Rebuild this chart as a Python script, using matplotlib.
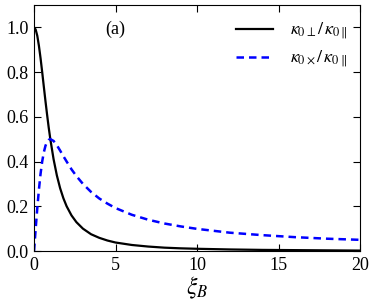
import matplotlib
matplotlib.use('Agg')
import matplotlib.pyplot as plt

# values
xi_b = [0, 0.1, 0.2, 0.3, 0.4, 0.5, 0.6, 0.7, 0.8, 0.9, 1.0, 1.2, 1.4, 1.6, 1.8,
        2.0, 2.3, 2.6, 3.0, 3.5, 4.0, 4.5, 5, 6, 7, 8, 9, 10, 12, 14, 16, 18, 20]
kappa_perp = [1.0, 0.990, 0.962, 0.917, 0.862, 0.800, 0.735, 0.671, 0.610, 0.552,
              0.500, 0.410, 0.338, 0.281, 0.236, 0.200, 0.159, 0.129, 0.100, 0.075,
              0.059, 0.047, 0.038, 0.027, 0.020, 0.015, 0.012, 0.010, 0.007, 0.005,
              0.004, 0.003, 0.002]
kappa_cross = [0.0, 0.099, 0.192, 0.275, 0.345, 0.400, 0.441, 0.470, 0.488, 0.497,
               0.500, 0.492, 0.473, 0.449, 0.424, 0.400, 0.365, 0.335, 0.300, 0.264,
               0.235, 0.212, 0.192, 0.162, 0.140, 0.123, 0.110, 0.099, 0.082, 0.071,
               0.062, 0.055, 0.050]

plt.rcParams['font.family'] = 'Liberation Serif'
plt.rcParams['mathtext.fontset'] = 'stix'

fig = plt.figure(figsize=(3.74, 3.08), dpi=100)
ax = fig.add_axes([0.091, 0.185, 0.8716, 0.799])

ax.plot(xi_b, kappa_perp, color='black', lw=1.6,
        label=r'$\kappa_{0\perp}/\,\kappa_{0\parallel}$')
ax.plot(xi_b, kappa_cross, color='blue', lw=1.8, ls=(0, (3, 2)),
        label=r'$\kappa_{0\times}/\,\kappa_{0\parallel}$')

ax.set_xlim(0, 20)
ax.set_ylim(0, 1.1)
ax.set_xticks([0, 5, 10, 15, 20])
ax.set_yticks([0.0, 0.2, 0.4, 0.6, 0.8, 1.0])
ax.set_yticklabels(['0.0', '0.2', '0.4', '0.6', '0.8', '1.0'])
ax.tick_params(direction='in', top=True, right=True, labelsize=13, length=5,
               width=0.8, pad=4)
ax.set_xlabel(r'$\xi_B$', fontsize=17, labelpad=1)

ax.text(5, 0.99, '(a)', fontsize=13, ha='center', va='center')

leg = ax.legend(loc='upper right', bbox_to_anchor=(1.0, 0.985), frameon=False,
                fontsize=13, handlelength=2.1, handletextpad=0.9,
                borderaxespad=0.3, labelspacing=0.35)

fig.savefig('out.png', dpi=100)
